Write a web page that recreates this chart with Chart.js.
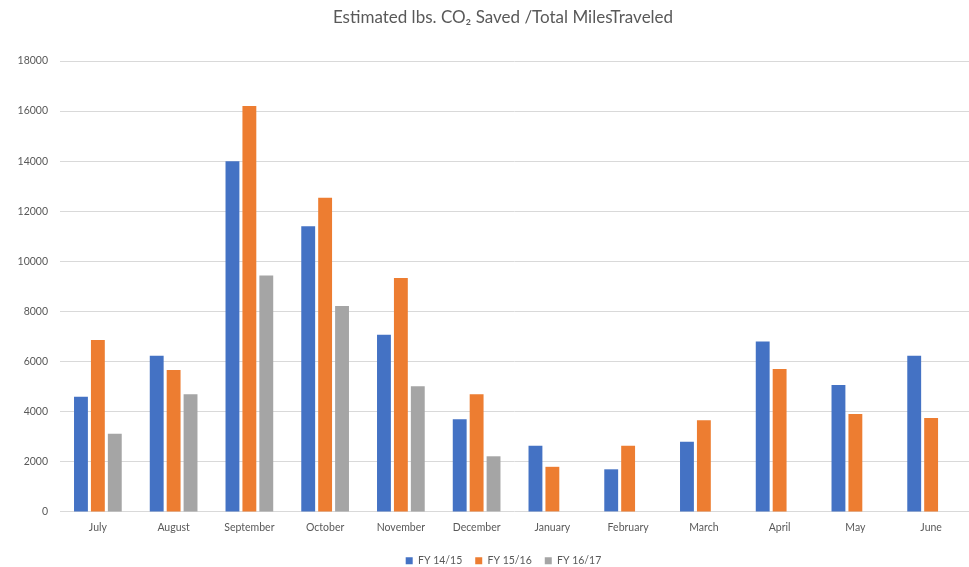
<!DOCTYPE html>
<html>
<head>
<meta charset="utf-8">
<script src="https://cdn.jsdelivr.net/npm/chart.js@4/dist/chart.umd.min.js"></script>
<style>
  html, body { margin: 0; padding: 0; background: #ffffff; }
  #wrap { width: 969px; height: 567px; position: relative; }
</style>
</head>
<body>
<div id="wrap"><canvas id="chart" width="969" height="567"></canvas></div>
<script>
// Monthly estimated pounds of CO2 saved, per fiscal year
const chartTitle = 'Estimated lbs. CO\u2082 Saved /Total MilesTraveled';
const months = ['July', 'August', 'September', 'October', 'November', 'December',
                'January', 'February', 'March', 'April', 'May', 'June'];
const seriesNames = ['FY 14/15', 'FY 15/16', 'FY 16/17'];
const fy1415 = [4600, 6230, 14000, 11400, 7070, 3700, 2640, 1700, 2800, 6800, 5070, 6230];
const fy1516 = [6860, 5660, 16200, 12540, 9340, 4700, 1800, 2640, 3660, 5700, 3910, 3750];
const fy1617 = [3120, 4700, 9440, 8220, 5020, 2220, null, null, null, null, null, null];
const yTicks = [0, 2000, 4000, 6000, 8000, 10000, 12000, 14000, 16000, 18000];

const colors = ['#4472C4', '#ED7D31', '#A5A5A5'];
const textColor = '#595959';
const fontFamily = 'Lato, "Open Sans", sans-serif';

// Title drawn centred over the plot block
const titlePlugin = {
  id: 'topTitle',
  afterDraw(chart) {
    const ctx = chart.ctx;
    ctx.save();
    ctx.font = '17px ' + fontFamily;
    ctx.fillStyle = textColor;
    ctx.textAlign = 'center';
    ctx.textBaseline = 'middle';
    ctx.fillText(chartTitle, 503, 18);
    ctx.restore();
  }
};

// Centre the legend under the same block as the title
const legendShift = {
  id: 'legendShift',
  afterLayout(chart) {
    if (chart.legend) chart.legend.left = 38;
  }
};

new Chart(document.getElementById('chart'), {
  type: 'bar',
  data: {
    labels: months,
    datasets: [fy1415, fy1516, fy1617].map((vals, i) => ({
      label: seriesNames[i],
      data: vals,
      backgroundColor: colors[i],
      borderWidth: 0,
      categoryPercentage: 0.67,
      barPercentage: 0.82
    }))
  },
  options: {
    responsive: false,
    animation: false,
    layout: { padding: { top: 61, left: 0, right: 0, bottom: -9 } },
    plugins: {
      title: { display: false },
      tooltip: { enabled: false },
      legend: {
        position: 'bottom',
        labels: {
          boxWidth: 7,
          boxHeight: 7,
          padding: 13,
          color: textColor,
          font: { family: fontFamily, size: 10.5 }
        }
      }
    },
    scales: {
      x: {
        grid: { display: false, drawTicks: false },
        border: { display: false },
        ticks: {
          color: textColor,
          font: { family: fontFamily, size: 10.5 },
          padding: 9,
          maxRotation: 0,
          autoSkip: false
        }
      },
      y: {
        min: 0,
        max: 18000,
        afterFit(scale) { scale.width = 60; },
        afterBuildTicks(scale) { scale.ticks = yTicks.map(v => ({ value: v })); },
        grid: { color: '#D9D9D9', lineWidth: 1, drawTicks: false },
        border: { display: false },
        ticks: {
          color: textColor,
          font: { family: fontFamily, size: 10.5 },
          padding: 12,
          callback: (v) => String(v)
        }
      }
    }
  },
  plugins: [titlePlugin, legendShift]
});
</script>
</body>
</html>
